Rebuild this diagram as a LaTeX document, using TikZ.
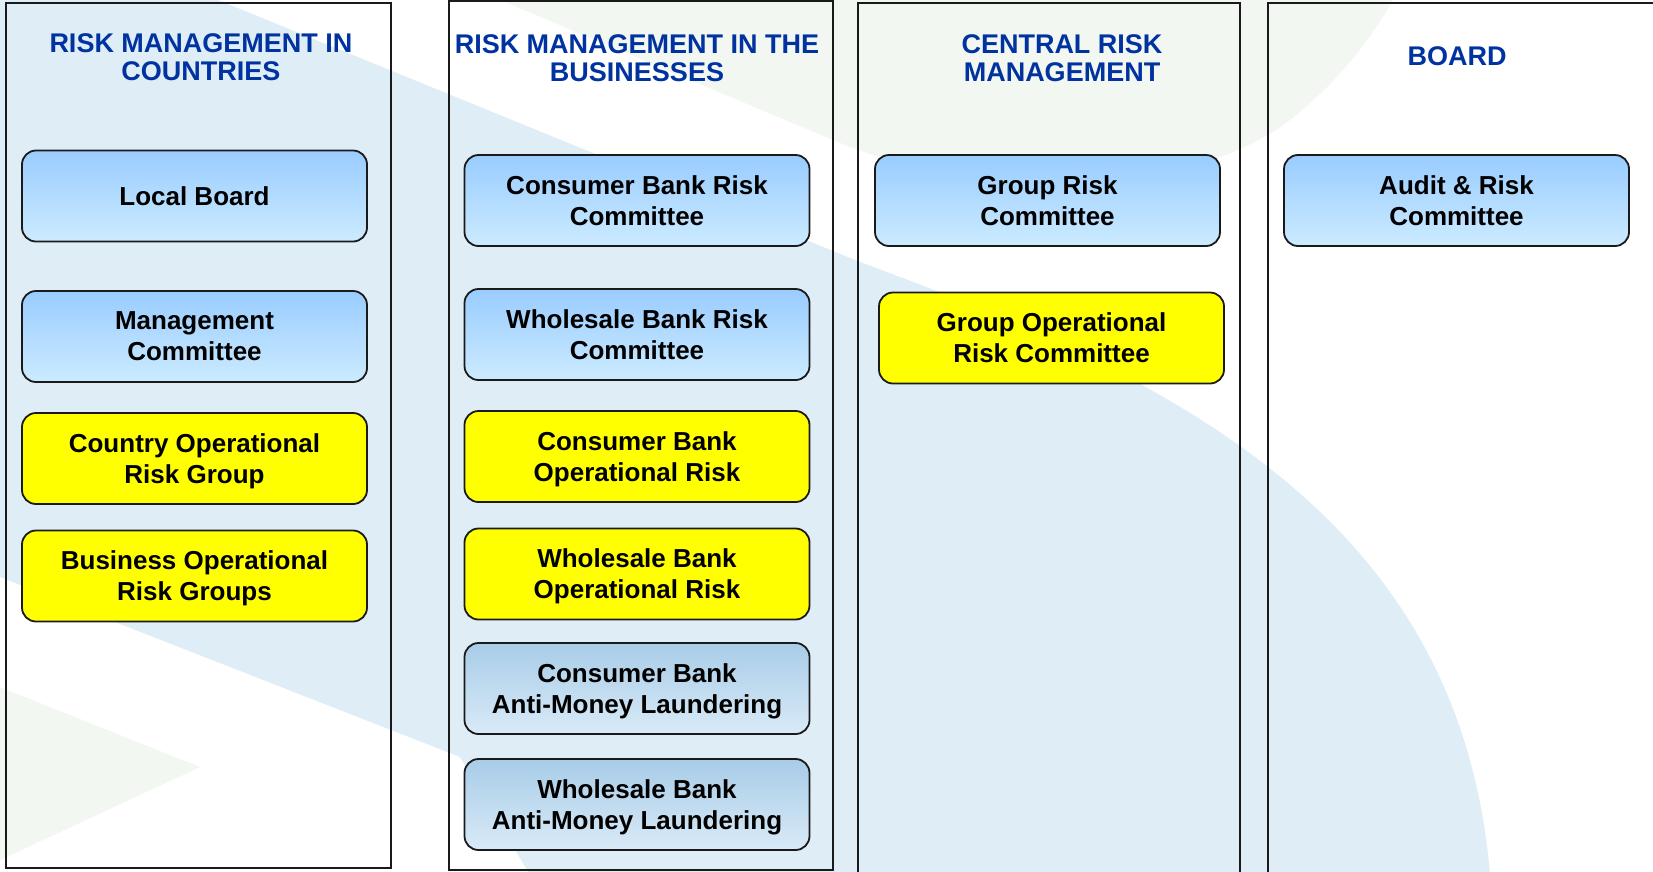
\documentclass[tikz,border=0pt]{standalone}
\usepackage{fontspec}
\setmainfont{Liberation Sans}
\definecolor{bgblue}{HTML}{DFEDF6}
\definecolor{bggreen}{HTML}{F3F7F2}
\definecolor{hdblue}{RGB}{0,51,160}
\definecolor{bxtop}{HTML}{99CCFF}
\definecolor{bxbot}{HTML}{CCEBFF}
\definecolor{amltop}{HTML}{A8CCE8}
\definecolor{amlbot}{HTML}{D9EAF7}
\definecolor{ylw}{HTML}{FFFF00}
\definecolor{framec}{HTML}{1A1A1A}
\begin{document}
\begin{tikzpicture}[x=1pt,y=-1pt,
  colframe/.style={draw=framec, line width=2pt},
  header/.style={text=hdblue, align=center, inner sep=0pt, text depth=0pt,
    font=\fontsize{27}{28}\selectfont\bfseries},
  box/.style={draw=framec, line width=1.8pt, rounded corners=14pt,
    minimum width=345pt, minimum height=91pt, align=center, inner sep=0pt,
    text depth=0pt, text=black, font=\fontsize{26}{31}\selectfont\bfseries},
  bluebox/.style={box, top color=bxtop, bottom color=bxbot},
  amlbox/.style={box, top color=amltop, bottom color=amlbot},
  yelbox/.style={box, fill=ylw}
]
\useasboundingbox (0,0) rectangle (1653,871);
% background watermark
\begin{scope}
\clip (0,0) rectangle (1653,871);
\fill[white] (0,0) rectangle (1653,871);
\fill[bggreen] (500,0) -- (833,140) .. controls (1000,210) and (1200,190) .. (1290,120)
  .. controls (1340,80) and (1370,40) .. (1393,0) -- cycle;
\fill[bgblue] (0,0) -- (218,0) -- (860,262) .. controls (1180,380) and (1460,520) .. (1490,875)
  -- (530,875) -- (460,757) -- (0,577) -- cycle;
\fill[bggreen] (0,687) -- (200,767) -- (0,860) -- cycle;
\end{scope}
% columns
\draw[colframe] (6,3) rectangle (391,868);
\draw[colframe] (449,1) rectangle (833,870);
\draw[colframe] (858,3) rectangle (1240,880);
\draw[colframe] (1268,3) rectangle (1670,880);
% headers
\node[header] (h1) at (201,57.3) {RISK MANAGEMENT IN\\COUNTRIES};
\node[header] (h2) at (637,58.3) {RISK MANAGEMENT IN THE\\BUSINESSES};
\node[header] (h3) at (1062,58.3) {CENTRAL RISK\\MANAGEMENT};
\node[header] (h4) at (1457,56.3) {BOARD};
% column 1
\node[bluebox] (lb) at (194.5,196) {Local Board};
\node[bluebox] (mc) at (194.5,336.5) {Management\\Committee};
\node[yelbox] (corg) at (194.5,458.5) {Country Operational\\Risk Group};
\node[yelbox] (borg) at (194.5,576) {Business Operational\\Risk Groups};
% column 2
\node[bluebox] (cbrc) at (637,200.5) {Consumer Bank Risk\\Committee};
\node[bluebox] (wbrc) at (637,334.5) {Wholesale Bank Risk\\Committee};
\node[yelbox] (cbor) at (637,456.5) {Consumer Bank\\Operational Risk};
\node[yelbox] (wbor) at (637,574) {Wholesale Bank\\Operational Risk};
\node[amlbox] (cbaml) at (637,688.5) {Consumer Bank\\Anti-Money Laundering};
\node[amlbox] (wbaml) at (637,804.5) {Wholesale Bank\\Anti-Money Laundering};
% column 3
\node[bluebox] (grc) at (1047.5,200.5) {Group Risk\\Committee};
\node[yelbox] (gorc) at (1051.5,338) {Group Operational\\Risk Committee};
% column 4
\node[bluebox] (arc) at (1456.5,200.5) {Audit \& Risk\\Committee};
\end{tikzpicture}
\end{document}
